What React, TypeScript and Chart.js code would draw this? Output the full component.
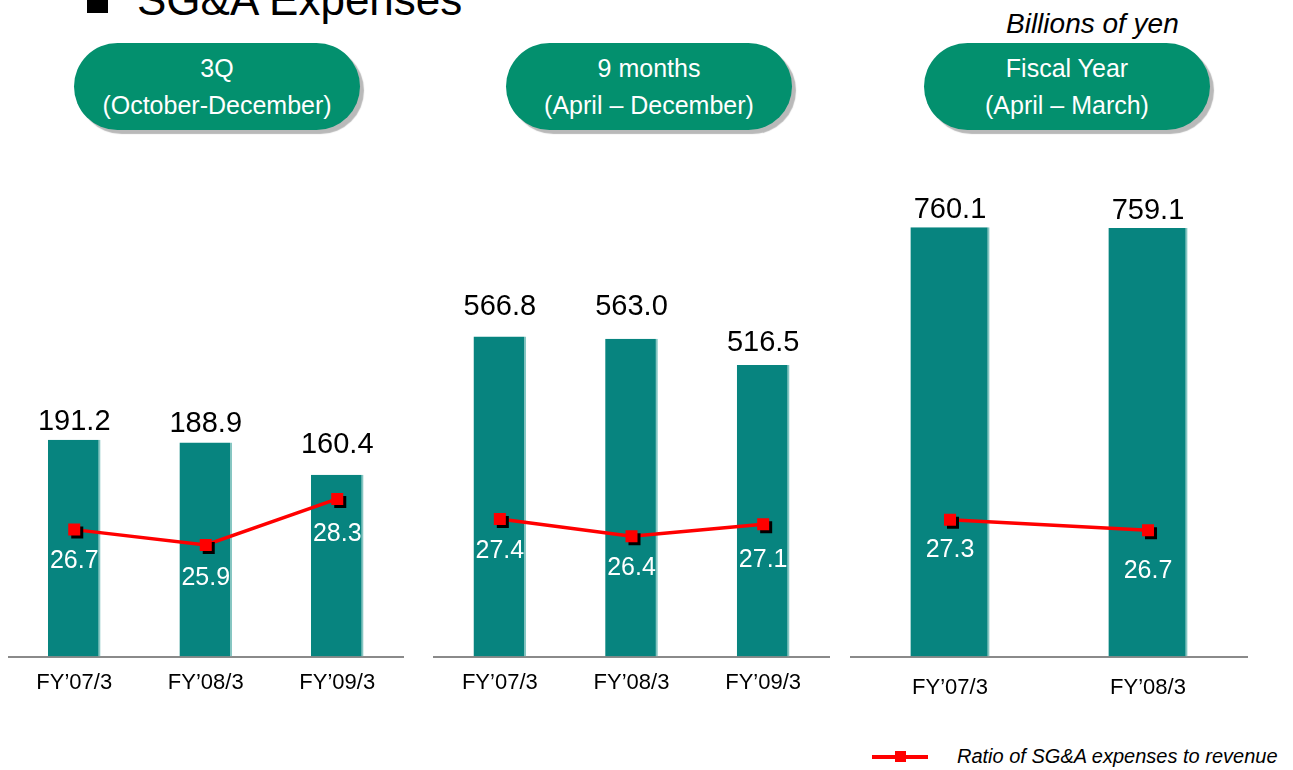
import React, { useEffect, useRef } from "react";
import { Chart, registerables } from "chart.js";

Chart.register(...registerables);

const FONT = '"Liberation Sans", Arial, Helvetica, sans-serif';

// ---- Data ----
const q3Categories = ["FY’07/3", "FY’08/3", "FY’09/3"];
const q3Expenses = [191.2, 188.9, 160.4];
const q3Ratio = [26.7, 25.9, 28.3];

const nineMonthCategories = ["FY’07/3", "FY’08/3", "FY’09/3"];
const nineMonthExpenses = [566.8, 563.0, 516.5];
const nineMonthRatio = [27.4, 26.4, 27.1];

const fyCategories = ["FY’07/3", "FY’08/3"];
const fyExpenses = [760.1, 759.1];
const fyRatio = [27.3, 26.7];

const panelHeadings = [
  ["3Q", "(October-December)"],
  ["9 months", "(April – December)"],
  ["Fiscal Year", "(April – March)"],
];

const titleText = "SG&A Expenses";
const unitText = "Billions of yen";
const legendText = "Ratio of SG&A expenses to revenue";

const BAR_COLOR = "#07847F";
const BAR_EDGE = "#86c6c2";
const LINE_COLOR = "#ff0000";
const PILL_COLOR = "#03906E";

// ---- Layout / style per panel ----
type PanelCfg = {
  categories: string[];
  expenses: number[];
  ratio: number[];
  left: number;
  width: number;
  padLeft: number;
  padRight: number;
  barMax: number;
  ratioMin: number;
  ratioMax: number;
  tickPad: number;
  barLabelLift: number[];
  ratioLabelDrop: number[];
};

const CANVAS_TOP = 140;
const PAD_TOP = 10;
const BASELINE = 657;
const TICK_FONT = 22;

const panels: PanelCfg[] = [
  {
    categories: q3Categories,
    expenses: q3Expenses,
    ratio: q3Ratio,
    left: 0,
    width: 420,
    padLeft: 7,
    padRight: 17,
    barMax: 446.9,
    ratioMin: 20.08,
    ratioMax: 46.49,
    tickPad: 13,
    barLabelLift: [18, 18, 30],
    ratioLabelDrop: [31, 33, 35],
  },
  {
    categories: nineMonthCategories,
    expenses: nineMonthExpenses,
    ratio: nineMonthRatio,
    left: 420,
    width: 420,
    padLeft: 14,
    padRight: 11,
    barMax: 897,
    ratioMin: 19.44,
    ratioMax: 48.75,
    tickPad: 13,
    barLabelLift: [29, 32, 22],
    ratioLabelDrop: [32, 32, 36],
  },
  {
    categories: fyCategories,
    expenses: fyExpenses,
    ratio: fyRatio,
    left: 840,
    width: 453,
    padLeft: 11,
    padRight: 46,
    barMax: 897,
    ratioMin: 19.6,
    ratioMax: 48.09,
    tickPad: 18,
    barLabelLift: [17, 17],
    ratioLabelDrop: [30, 41],
  },
];

const labelPlugin = {
  id: "valueLabels",
  beforeDatasetDraw(chart: any, args: any) {
    if (args.index === 2) {
      const ctx = chart.ctx;
      ctx.save();
      ctx.shadowColor = "#000000";
      ctx.shadowOffsetX = 3;
      ctx.shadowOffsetY = 3;
      ctx.shadowBlur = 0;
    }
  },
  afterDatasetDraw(chart: any, args: any) {
    if (args.index === 2) {
      chart.ctx.restore();
    }
  },
  afterDatasetsDraw(chart: any, _args: any, opts: any) {
    const ctx = chart.ctx;
    const barMeta = chart.getDatasetMeta(0);
    const ptMeta = chart.getDatasetMeta(2);
    const barData = chart.data.datasets[0].data as number[];
    const ratioData = chart.data.datasets[2].data as number[];
    ctx.save();
    ctx.textAlign = "center";
    ctx.textBaseline = "middle";
    ctx.font = `29px ${FONT}`;
    ctx.fillStyle = "#000000";
    barMeta.data.forEach((el: any, i: number) => {
      const lift = (opts.barLift && opts.barLift[i]) || 20;
      ctx.fillText(barData[i].toFixed(1), el.x, el.y - lift);
    });
    ctx.font = `25px ${FONT}`;
    ctx.fillStyle = "#ffffff";
    ptMeta.data.forEach((el: any, i: number) => {
      const drop = (opts.ratioDrop && opts.ratioDrop[i]) || 32;
      ctx.fillText(ratioData[i].toFixed(1), el.x, el.y + drop);
    });
    ctx.restore();
  },
};

function PanelChart({ cfg }: { cfg: PanelCfg }) {
  const ref = useRef<HTMLCanvasElement | null>(null);
  const height = Math.round(BASELINE - CANVAS_TOP + TICK_FONT * 1.2 + cfg.tickPad * 2);

  useEffect(() => {
    if (!ref.current) return;
    const chart = new Chart(ref.current, {
      type: "bar",
      data: {
        labels: cfg.categories,
        datasets: [
          {
            type: "bar",
            data: cfg.expenses,
            yAxisID: "y",
            backgroundColor: BAR_COLOR,
            borderColor: BAR_EDGE,
            borderWidth: { top: 0, left: 0, bottom: 0, right: 2 } as any,
            borderSkipped: false,
            categoryPercentage: 0.8,
            barPercentage: 0.5,
            order: 3,
          },
          {
            type: "line",
            data: cfg.ratio,
            yAxisID: "y1",
            borderColor: LINE_COLOR,
            borderWidth: 3.5,
            pointRadius: 0,
            fill: false,
            order: 2,
          } as any,
          {
            type: "line",
            data: cfg.ratio,
            yAxisID: "y1",
            showLine: false,
            pointStyle: "rect",
            pointRadius: 8.5,
            pointBorderWidth: 0,
            pointBackgroundColor: LINE_COLOR,
            pointBorderColor: LINE_COLOR,
            order: 1,
          } as any,
        ],
      },
      options: {
        animation: false,
        responsive: false,
        maintainAspectRatio: false,
        events: [],
        layout: {
          padding: { left: cfg.padLeft, right: cfg.padRight, top: PAD_TOP, bottom: 0 },
        },
        plugins: {
          legend: { display: false },
          tooltip: { enabled: false },
          valueLabels: { barLift: cfg.barLabelLift, ratioDrop: cfg.ratioLabelDrop },
        } as any,
        scales: {
          x: {
            offset: true,
            grid: { display: false, drawTicks: false },
            border: { display: true, color: "#8a8a8a", width: 2 },
            ticks: {
              color: "#000000",
              font: { family: FONT, size: TICK_FONT },
              padding: cfg.tickPad,
              maxRotation: 0,
              autoSkip: false,
            },
          },
          y: {
            display: false,
            min: 0,
            max: cfg.barMax,
          },
          y1: {
            display: false,
            min: cfg.ratioMin,
            max: cfg.ratioMax,
          },
        },
      },
      plugins: [labelPlugin],
    });
    return () => chart.destroy();
  }, [cfg]);

  return (
    <canvas
      ref={ref}
      width={cfg.width}
      height={height}
      style={{
        position: "absolute",
        left: cfg.left,
        top: CANVAS_TOP,
        width: cfg.width,
        height: height,
      }}
    />
  );
}

const pillLefts = [74, 506, 924];

export default function App() {
  return (
    <div
      style={{
        position: "absolute",
        left: 0,
        top: 0,
        width: 1293,
        height: 770,
        overflow: "hidden",
        background: "#ffffff",
        fontFamily: FONT,
      }}
    >
      {/* Title */}
      <div
        style={{ position: "absolute", left: 87, top: -8, width: 21, height: 21, background: "#000" }}
      />
      <div
        style={{
          position: "absolute",
          left: 137,
          top: -22,
          fontSize: 44,
          lineHeight: "44px",
          whiteSpace: "nowrap",
          color: "#000",
        }}
      >
        {titleText}
      </div>
      {/* Unit */}
      <div
        style={{
          position: "absolute",
          left: 1006,
          top: 8,
          fontSize: 28,
          lineHeight: "32px",
          fontStyle: "italic",
          whiteSpace: "nowrap",
          color: "#000",
        }}
      >
        {unitText}
      </div>

      {panels.map((p, i) => (
        <PanelChart key={i} cfg={p} />
      ))}

      {/* Pills */}
      {panelHeadings.map((lines, i) => (
        <div
          key={i}
          style={{
            position: "absolute",
            left: pillLefts[i],
            top: 43,
            width: 286,
            height: 87,
            borderRadius: 44,
            background: PILL_COLOR,
            boxShadow: "4px 4px 1px #b9b9b9",
            color: "#ffffff",
            fontSize: 25,
            lineHeight: "37px",
            textAlign: "center",
            display: "flex",
            flexDirection: "column",
            justifyContent: "center",
            whiteSpace: "nowrap",
          }}
        >
          <div>{lines[0]}</div>
          <div>{lines[1]}</div>
        </div>
      ))}

      {/* Legend */}
      <div
        style={{ position: "absolute", left: 872, top: 755, width: 56, height: 3.5, background: LINE_COLOR }}
      />
      <div
        style={{ position: "absolute", left: 895, top: 751, width: 11, height: 11, background: LINE_COLOR }}
      />
      <div
        style={{
          position: "absolute",
          left: 957,
          top: 744,
          fontSize: 20,
          lineHeight: "24px",
          fontStyle: "italic",
          whiteSpace: "nowrap",
          color: "#000",
        }}
      >
        {legendText}
      </div>
    </div>
  );
}
